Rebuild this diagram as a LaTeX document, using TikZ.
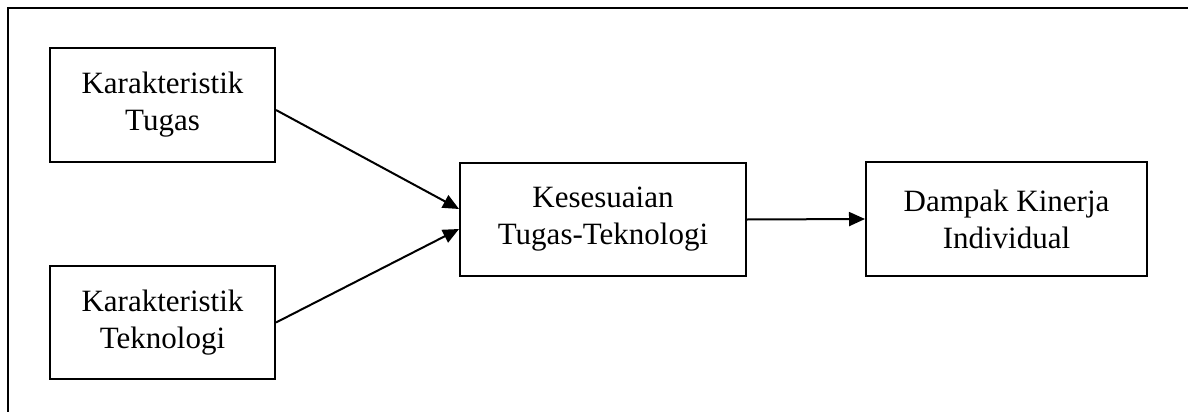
\documentclass[tikz,border=0pt]{standalone}
\usepackage{fontspec}
\setmainfont{Liberation Serif}
\usetikzlibrary{arrows.meta,calc}
\begin{document}
\begin{tikzpicture}[x=1pt,y=-1pt,
  box/.style={draw,line width=2pt,align=center,inner sep=0pt,font=\fontsize{31pt}{37pt}\selectfont},
  arr/.style={line width=2pt,-{Triangle[length=16pt,width=14pt]}}]
\useasboundingbox (0,0) rectangle (1188,412);
\coordinate (ftop) at (1188,8);
\coordinate (fbot) at (8,412);
\coordinate (fcorner) at (8,8);
\draw[line width=2pt] (fbot) -- (fcorner) -- (ftop);
\node[box,minimum width=225pt,minimum height=114pt] (b1) at (162.5,105) {Karakteristik\\Tugas};
\node[box,minimum width=225pt,minimum height=113pt] (b2) at (162.5,322.5) {Karakteristik\\Teknologi};
\node[box,minimum width=286pt,minimum height=113pt] (mid) at (603,219.5) {Kesesuaian\\Tugas-Teknologi};
\node[box,minimum width=281pt,minimum height=114pt] (out) at (1006.5,219) {Dampak Kinerja\\Individual};
\draw[arr] ([yshift=-5pt]b1.east) -- ([yshift=10.5pt]mid.west);
\draw[arr] (b2.east) -- ([yshift=-9.5pt]mid.west);
\draw[arr] (mid.east) -- (out.west);
\end{tikzpicture}
\end{document}
